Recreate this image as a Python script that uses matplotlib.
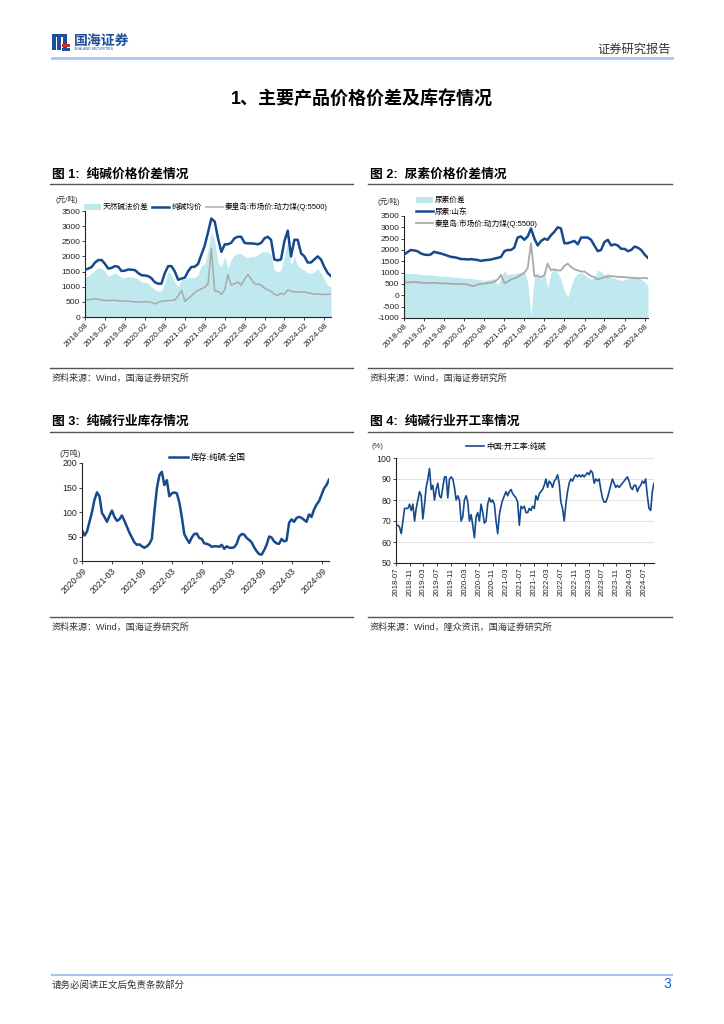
import matplotlib
matplotlib.use('Agg')
import matplotlib.pyplot as plt
import matplotlib.dates as mdates
from matplotlib.patches import Rectangle
from matplotlib.lines import Line2D
import pandas as pd
import numpy as np

plt.rcParams['font.family'] = ['Liberation Sans', 'Noto Sans CJK SC']
plt.rcParams['axes.unicode_minus'] = False

# ---------------- DATA ----------------
# Fig 1: soda ash (monthly from 2018-08)
c1_start = '2018-08-01'
c1_spread = [1300, 1350, 1450, 1550, 1620, 1600, 1500, 1350, 1400, 1450, 1400, 1300, 1300, 1330, 1320,
             1300, 1250, 1150, 1150, 1100, 1000, 900, 850, 850, 1150, 1500, 1400, 1150, 1000, 1250,
             1250, 1300, 1300, 1300, 1400, 1700, 1750, 2200, 2800, 2500, 1800, 1650, 2000, 1600, 1900,
             2050, 2100, 2100, 2000, 1950, 2000, 2000, 2050, 2150, 2150, 2150, 2050, 1550, 1500, 1550,
             2000, 2500, 1700, 2000, 1700, 1600, 1550, 1450, 1450, 1500, 1600, 1450, 1250, 1050, 1000]
c1_price = [1560, 1600, 1650, 1800, 1880, 1880, 1750, 1600, 1620, 1680, 1660, 1520, 1530, 1570, 1560,
            1550, 1450, 1380, 1370, 1350, 1280, 1150, 1100, 1100, 1450, 1680, 1680, 1500, 1230, 1270,
            1300, 1500, 1650, 1660, 1750, 2050, 2350, 2800, 3250, 3150, 2600, 2150, 2400, 2400, 2450,
            2600, 2650, 2650, 2450, 2430, 2430, 2420, 2400, 2450, 2600, 2650, 2550, 1900, 1870, 1900,
            2500, 2850, 2000, 2550, 2550, 2100, 2000, 1800, 1800, 1900, 2000, 1900, 1650, 1450, 1350]
c1_coal = [560, 570, 580, 600, 590, 560, 550, 540, 550, 550, 540, 530, 530, 520, 510,
           500, 500, 500, 500, 500, 480, 430, 480, 520, 530, 540, 550, 560, 700, 880,
           520, 600, 700, 800, 880, 930, 980, 1100, 2250, 850, 850, 750, 900, 1400, 1050,
           1100, 1150, 1050, 1250, 1400, 1250, 1100, 1080, 1050, 950, 900, 850, 750, 720, 780,
           750, 900, 850, 830, 830, 820, 830, 800, 780, 750, 760, 750, 740, 750, 760]
c1_labels = ['天然碱法价差', '纯碱均价', '秦皇岛:市场价:动力煤(Q:5500)']

# Fig 2: urea (monthly from 2018-08)
c2_start = '2018-08-01'
c2_spread = [950, 960, 970, 960, 950, 930, 900, 900, 900, 880, 860, 850, 850, 830, 820,
             800, 800, 780, 760, 750, 740, 720, 700, 680, 650, 680, 700, 750, 450, 750,
             1100, 900, 950, 950, 1000, 1000, 1050, 600, -900, 900, 1000, 700, 1050, 300, 1000,
             1150, 1000, 700, 200, -100, 400, 800, 950, 1000, 900, 800, 700, 800, 1100, 1050,
             900, 1000, 800, 750, 700, 650, 700, 750, 800, 850, 800, 700, 600, 400]
c2_urea = [1800, 1900, 2000, 1980, 1950, 1850, 1800, 1780, 1800, 1920, 1880, 1850, 1800, 1750, 1700,
           1680, 1650, 1600, 1600, 1580, 1600, 1580, 1560, 1520, 1550, 1560, 1580, 1620, 1650, 1700,
           1950, 2000, 2000, 2100, 2550, 2600, 2450, 2600, 2950, 2500, 2200, 2400, 2500, 2450, 2650,
           2800, 3000, 2950, 2300, 2300, 2350, 2400, 2250, 2550, 2550, 2550, 2450, 2200, 1950, 2000,
           2350, 2450, 2200, 2250, 2200, 2050, 2050, 1950, 2000, 2150, 2100, 2000, 1800, 1650]
c2_coal = [560, 570, 580, 590, 580, 560, 550, 540, 550, 550, 540, 530, 530, 520, 510,
           500, 500, 500, 500, 480, 430, 400, 480, 500, 520, 540, 560, 600, 700, 900,
           530, 600, 700, 750, 800, 900, 1000, 1200, 2300, 850, 850, 800, 900, 1400, 1100,
           1150, 1100, 1100, 1300, 1400, 1250, 1150, 1100, 1050, 1050, 950, 850, 800, 700, 750,
           800, 820, 850, 830, 820, 810, 800, 790, 780, 760, 750, 760, 760, 750]
c2_labels = ['尿素价差', '尿素:山东', '秦皇岛:市场价:动力煤(Q:5500)']

# Fig 3: soda ash inventory (half-monthly, 2020-09-01 .. 2024-10-13), 万吨
c3_start, c3_end = '2020-09-01', '2024-10-13'
c3_stock = [63, 52, 60, 80, 100, 125, 140, 132, 98, 90, 80, 92, 103, 90, 82, 85, 93, 82, 70, 58,
            48, 38, 33, 34, 30, 27, 30, 35, 45, 100, 148, 175, 182, 155, 165, 132, 138, 140, 138, 120,
            90, 55, 45, 37, 48, 55, 56, 47, 45, 36, 35, 33, 29, 30, 30, 29, 33, 25, 30, 27,
            27, 28, 35, 50, 55, 54, 47, 43, 38, 28, 20, 14, 13, 22, 33, 50, 48, 40, 36, 35,
            45, 40, 42, 78, 85, 80, 88, 90, 88, 84, 80, 95, 90, 105, 115, 122, 135, 148, 155, 166]
c3_label = '库存:纯碱:全国'

# Fig 4: soda ash operating rate (%), 2018-07-18 .. 2024-09-28
c4_start, c4_end = '2018-07-18', '2024-09-28'
c4_rate = [68, 67, 64, 70, 76, 76, 76, 78, 75, 78, 70, 76, 80, 84, 82, 71, 78, 86, 90, 95,
           85, 87, 80, 85, 88, 82, 81, 86, 91, 91, 81, 90, 91, 90, 86, 80, 82, 80, 70, 72,
           80, 82, 79, 70, 73, 68, 62, 72, 74, 70, 78, 74, 69, 70, 78, 81, 79, 80, 78, 70,
           64, 73, 77, 80, 82, 84, 82, 84, 85, 83, 82, 81, 79, 68, 77, 76, 77, 74, 74, 76,
           75, 77, 76, 82, 80, 83, 84, 85, 87, 90, 86, 89, 88, 86, 89, 90, 92, 88, 79, 76,
           70, 78, 84, 88, 90, 89, 91, 92, 91, 92, 91, 92, 91, 92, 93, 92, 94, 93, 88, 90,
           89, 90, 85, 81, 79, 79, 81, 84, 87, 90, 88, 86, 87, 86, 87, 88, 89, 90, 91, 89,
           86, 85, 87, 87, 84, 86, 87, 89, 88, 90, 82, 76, 75, 84, 88]
c4_label = '中国:开工率:纯碱'

# ---------------- STYLE ----------------
DARK = '#174a8c'
LIGHT = '#bfe8ef'
GRAY = '#a9a9a9'
W, H = 724, 1024
fig = plt.figure(figsize=(7.24, 10.24), dpi=100)


def fx(x):
    return x / W


def fy(y):
    return 1 - y / H


def add_ax(x0, y0, x1, y1):
    return fig.add_axes([fx(x0), fy(y1), (x1 - x0) / W, (y1 - y0) / H])


def style(ax):
    for s in ['top', 'right']:
        ax.spines[s].set_visible(False)
    for s in ['left', 'bottom']:
        ax.spines[s].set_linewidth(0.8)
        ax.spines[s].set_color('#222222')
    ax.tick_params(axis='both', labelsize=6, length=2, width=0.6, pad=1.5, colors='#222222')
    ax.xaxis.set_major_formatter(mdates.DateFormatter('%Y-%m'))


def hline(y, x0, x1, color='#555555', lw=1.0):
    fig.add_artist(Line2D([fx(x0), fx(x1)], [fy(y), fy(y)], color=color, lw=lw))


def txt(x, y, s, **kw):
    fig.text(fx(x), fy(y), s, **kw)


# ---------------- PAGE HEADER ----------------
for (x, y, w, h, c) in [(52, 34, 4, 16, '#1f4f9c'), (57, 34, 4, 16, '#1f4f9c'), (63, 34, 4, 16, '#1f4f9c'),
                        (52, 34, 15, 3, '#1f4f9c'), (62, 44, 8, 2.5, '#d4262c'), (62, 48, 8, 2.5, '#1f4f9c')]:
    fig.add_artist(Rectangle((fx(x), fy(y + h)), w / W, h / H, color=c, lw=0))
txt(74, 41, '国海证券', fontsize=10, fontweight='bold', color='#1f4f9c', va='center', ha='left')
txt(74, 49.5, 'SEALAND SECURITIES', fontsize=2.6, color='#1f4f9c', va='center', ha='left')
txt(671, 50, '证券研究报告', fontsize=8.8, color='#333333', va='center', ha='right')
hline(58, 52, 672, color='#a8c6ee', lw=2)
txt(362, 100, '1、主要产品价格价差及库存情况', fontsize=13, fontweight='bold', ha='center', va='center')

# section headers / rules
txt(52, 175, '图 1:  纯碱价格价差情况', fontsize=9.2, fontweight='bold', va='center', ha='left')
txt(370, 175, '图 2:  尿素价格价差情况', fontsize=9.2, fontweight='bold', va='center', ha='left')
hline(184, 50, 353)
hline(184, 368, 672)
hline(368, 50, 353)
hline(368, 368, 672)
txt(52, 378, '资料来源：Wind，国海证券研究所', fontsize=6.5, color='#333333', va='center', ha='left')
txt(370, 378, '资料来源：Wind，国海证券研究所', fontsize=6.5, color='#333333', va='center', ha='left')

txt(52, 422, '图 3:  纯碱行业库存情况', fontsize=9.2, fontweight='bold', va='center', ha='left')
txt(370, 422, '图 4:  纯碱行业开工率情况', fontsize=9.2, fontweight='bold', va='center', ha='left')
hline(432, 50, 353)
hline(432, 368, 672)
hline(617, 50, 353)
hline(617, 368, 672)
txt(52, 627, '资料来源：Wind，国海证券研究所', fontsize=6.5, color='#333333', va='center', ha='left')
txt(370, 627, '资料来源：Wind，隆众资讯，国海证券研究所', fontsize=6.5, color='#333333', va='center', ha='left')

# footer
hline(975, 52, 672, color='#a8c6ee', lw=1.5)
txt(52, 985, '请务必阅读正文后免责条款部分', fontsize=6.8, color='#333333', va='center', ha='left')
txt(671, 984, '3', fontsize=10, color='#1f5fd0', va='center', ha='right')

# ---------------- CHART 1 ----------------
d1 = pd.date_range(c1_start, periods=len(c1_price), freq='MS')
ax1 = add_ax(85, 211, 331, 317)
style(ax1)
ax1.fill_between(d1, 0, c1_spread, color=LIGHT, lw=0, zorder=1, label=c1_labels[0])
ax1.plot(d1, c1_price, color=DARK, lw=1.8, zorder=3, label=c1_labels[1])
ax1.plot(d1, c1_coal, color=GRAY, lw=1.1, zorder=2, label=c1_labels[2])
ax1.set_ylim(0, 3500)
ax1.set_yticks(np.arange(0, 3501, 500))
ax1.set_xlim(d1[0], d1[-1])
ax1.set_xticks(pd.date_range('2018-08-01', '2024-08-01', freq='6MS'))
for lab in ax1.get_xticklabels():
    lab.set_rotation(45); lab.set_ha('right'); lab.set_rotation_mode('anchor')
ax1.legend(loc='center left', bbox_to_anchor=(fx(80), fy(207)), bbox_transform=fig.transFigure,
           ncol=3, frameon=False, fontsize=5.5, handlelength=2.2, handletextpad=0.3,
           columnspacing=0.5, borderpad=0, handleheight=0.8)
txt(56, 200, '(元/吨)', fontsize=5.5, va='center', ha='left', color='#333333')

# ---------------- CHART 2 ----------------
d2 = pd.date_range(c2_start, periods=len(c2_urea), freq='MS')
ax2 = add_ax(404, 216, 648, 318)
style(ax2)
ax2.fill_between(d2, -1000, c2_spread, color=LIGHT, lw=0, zorder=1, label=c2_labels[0])
ax2.plot(d2, c2_urea, color=DARK, lw=1.8, zorder=3, label=c2_labels[1])
ax2.plot(d2, c2_coal, color=GRAY, lw=1.3, zorder=2, label=c2_labels[2])
ax2.set_ylim(-1000, 3500)
ax2.set_yticks(np.arange(-1000, 3501, 500))
ax2.set_xlim(d2[0], d2[-1])
ax2.set_xticks(pd.date_range('2018-08-01', '2024-08-01', freq='6MS'))
for lab in ax2.get_xticklabels():
    lab.set_rotation(45); lab.set_ha('right'); lab.set_rotation_mode('anchor')
ax2.legend(loc='upper left', bbox_to_anchor=(fx(412), fy(193)), bbox_transform=fig.transFigure,
           ncol=1, frameon=False, fontsize=5.5, handlelength=2.2, handletextpad=0.3,
           labelspacing=0.45, borderpad=0, handleheight=0.8)
txt(377, 202, '(元/吨)', fontsize=5.5, va='center', ha='left', color='#333333')

# ---------------- CHART 3 ----------------
d3 = pd.date_range(c3_start, c3_end, periods=len(c3_stock))
ax3 = add_ax(82, 463, 329, 561)
style(ax3)
ax3.plot(d3, c3_stock, color=DARK, lw=1.8, label=c3_label)
ax3.set_ylim(0, 200)
ax3.set_yticks(np.arange(0, 201, 50))
ax3.set_xlim(pd.Timestamp('2020-09-01'), d3[-1])
ax3.set_xticks(pd.date_range('2020-09-01', '2024-09-01', freq='6MS'))
for lab in ax3.get_xticklabels():
    lab.set_rotation(45); lab.set_ha('right'); lab.set_rotation_mode('anchor')
ax3.tick_params(axis='both', labelsize=6.3)
ax3.legend(loc='center left', bbox_to_anchor=(fx(165), fy(458)), bbox_transform=fig.transFigure,
           frameon=False, fontsize=6, handlelength=2.3, handletextpad=0.3, borderpad=0)
txt(59, 453, '(万吨)', fontsize=5.8, va='center', ha='left', color='#333333')

# ---------------- CHART 4 ----------------
d4 = pd.date_range(c4_start, c4_end, periods=len(c4_rate))
ax4 = add_ax(396, 458, 654, 563)
style(ax4)
ax4.plot(d4, c4_rate, color=DARK, lw=1.2, label=c4_label)
ax4.set_ylim(50, 100)
ax4.set_yticks(np.arange(50, 101, 10))
ax4.yaxis.grid(True, color='#dddddd', lw=0.6)
ax4.set_axisbelow(True)
ax4.set_xlim(pd.Timestamp('2018-07-01'), d4[-1])
ax4.set_xticks(pd.date_range('2018-07-01', '2024-07-01', freq='4MS'))
for lab in ax4.get_xticklabels():
    lab.set_rotation(90); lab.set_ha('center'); lab.set_va('top')
ax4.tick_params(axis='x', labelsize=5.6)
ax4.tick_params(axis='y', labelsize=6.3)
ax4.legend(loc='center left', bbox_to_anchor=(fx(462), fy(447)), bbox_transform=fig.transFigure,
           frameon=False, fontsize=5.7, handlelength=2.3, handletextpad=0.3, borderpad=0)
txt(371, 447, '(%)', fontsize=5.5, va='center', ha='left', color='#333333')

fig.savefig('out.png', dpi=100)
